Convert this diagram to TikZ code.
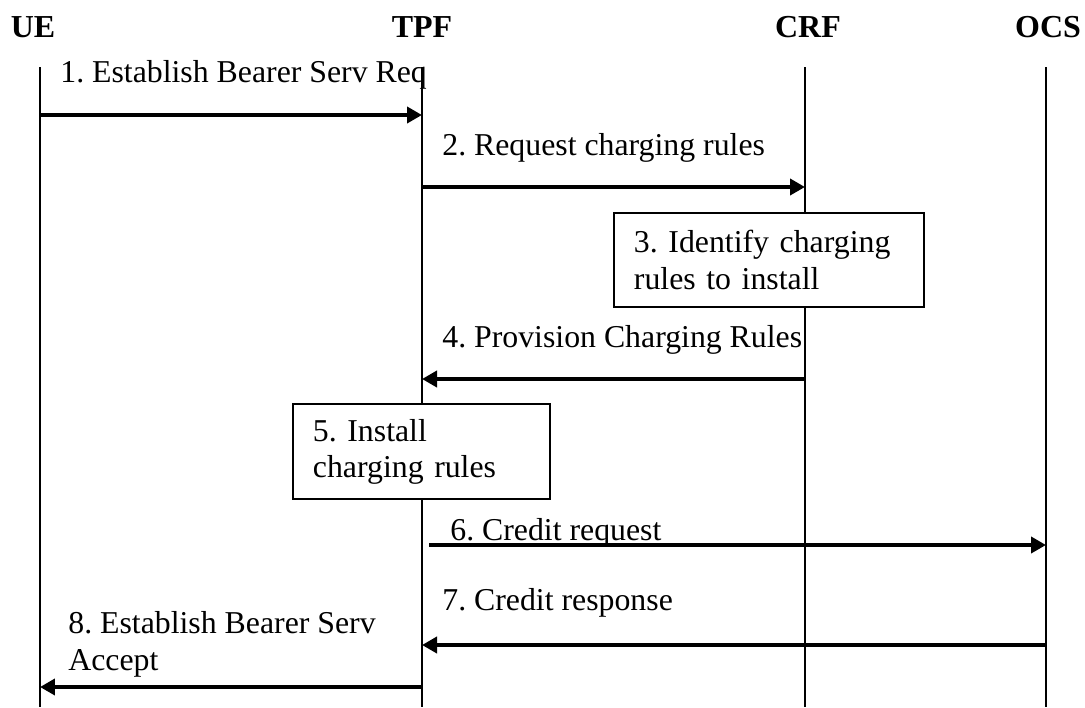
\documentclass[tikz,border=0pt]{standalone}
\usepackage{fontspec}
\setmainfont{Liberation Serif}
\usepackage{tikz}
\usetikzlibrary{arrows.meta}
\usetikzlibrary{calc}
\frenchspacing

\begin{document}
\begin{tikzpicture}[x=0.02cm, y=-0.02cm,
				lifeline/.style={draw, line width=1.1pt},
				message/.style={draw, line width=2.3pt, -{Triangle[length=0.3cm, width=0.32cm]}},
				msgtext/.style={anchor=base west, inner sep=0pt, font=\fontsize{18.1}{20.5}\selectfont},
				entity/.style={anchor=base, inner sep=0pt, font=\fontsize{18.2}{20.5}\selectfont\bfseries},
				internal/.style={draw, rectangle, line width=1.1pt, fill=white, anchor=north west, align=left, inner xsep=0.4cm, inner ysep=0pt, font=\fontsize{18.1}{20.5}\selectfont\frenchspacing}]
				\useasboundingbox (0,0) rectangle (1085,707);
				
				\node[entity](ue) at (33, 37) {UE};
				\node[entity](tpf) at (422, 37) {TPF};
				\node[entity](crf) at (808, 37) {CRF};
				\node[entity](ocs) at (1048, 37) {OCS};
				
				\coordinate (ueTop) at (40, 67);
				\coordinate (tpfTop) at (422, 67);
				\coordinate (crfTop) at (805, 67);
				\coordinate (ocsTop) at (1046, 67);
				\coordinate (bottom) at (0, 707);
				
				\draw[lifeline] (ueTop) -- (ueTop |- bottom);
				\draw[lifeline] (tpfTop) -- (tpfTop |- bottom);
				\draw[lifeline] (crfTop) -- (crfTop |- bottom);
				\draw[lifeline] (ocsTop) -- (ocsTop |- bottom);
				
				% message rows
				\coordinate (row1) at (0, 115);
				\coordinate (row2) at (0, 187);
				\coordinate (row4) at (0, 379);
				\coordinate (row6) at (0, 545);
				\coordinate (row7) at (0, 645);
				\coordinate (row8) at (0, 687);
				\coordinate (start6) at (429, 545);
				
				\node[internal, text width=5.4cm, minimum height=1.88cm](box3) at (613, 212) {3. Identify charging\\rules to install};
				\node[internal, text width=4.34cm, minimum height=1.9cm](box5) at (292, 403) {5. Install\\charging rules};
				
				\node[msgtext](text1) at (60, 82) {1. Establish Bearer Serv Req};
				\node[msgtext](text2) at (442, 155) {2. Request charging rules};
				\node[msgtext](text4) at (442, 347) {4. Provision Charging Rules};
				\node[msgtext](text6) at (450, 540) {6. Credit request};
				\node[msgtext](text7) at (442, 610) {7. Credit response};
				\node[msgtext](text8) at (68, 633) {8. Establish Bearer Serv};
				\node[msgtext](text8b) at (68, 670) {Accept};
				
				\draw[message] (ueTop |- row1) -- (tpfTop |- row1);
				\draw[message] (tpfTop |- row2) -- (crfTop |- row2);
				\draw[message] (crfTop |- row4) -- (tpfTop |- row4);
				\draw[message] (start6) -- (ocsTop |- row6);
				\draw[message] (ocsTop |- row7) -- (tpfTop |- row7);
				\draw[message] (tpfTop |- row8) -- (ueTop |- row8);
				
\end{tikzpicture}
\end{document}
